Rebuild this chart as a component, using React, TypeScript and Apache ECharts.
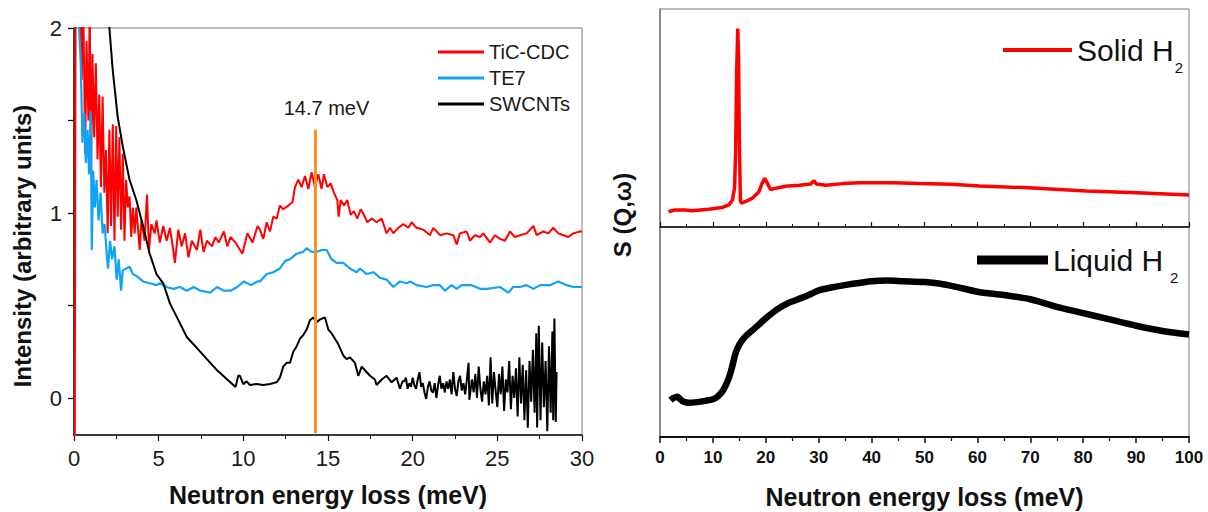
import React, { useEffect, useRef } from "react";
import * as echarts from "echarts";

const FONT = '"Liberation Sans", Arial, Helvetica, sans-serif';

// ---------- Left panel: INS spectra (x = meV, y = intensity) ----------
const ticCdc: number[][] = [
  [0.04, -0.5], [0.1, 2.5], [0.34, 2.3], [0.46, 1.72], [0.54, 2.2], [0.66, 1.32], [0.74, 1.93], [0.85, 1.5],
  [0.93, 2.1], [1.01, 1.21], [1.09, 1.86], [1.19, 1.41], [1.29, 1.81], [1.39, 1.29], [1.49, 1.64], [1.59, 1.14],
  [1.69, 1.63], [1.79, 1.11], [1.89, 1.34], [1.99, 0.89], [2.09, 1.45], [2.19, 0.93], [2.29, 1.48], [2.39, 0.85],
  [2.49, 1.47], [2.58, 0.98], [2.68, 1.41], [2.78, 0.91], [2.88, 1.32], [2.98, 0.85], [3.08, 1.18], [3.18, 1.03],
  [3.28, 1.09], [3.38, 0.87], [3.48, 1.03], [3.58, 0.89], [3.68, 1.03], [3.88, 0.8], [3.98, 0.96], [4.17, 0.85],
  [4.31, 1.1], [4.43, 0.8], [4.57, 0.94], [4.77, 0.89], [4.87, 0.96], [5.07, 0.84], [5.27, 0.93], [5.47, 0.85],
  [5.67, 0.92], [5.86, 0.8], [5.96, 0.73], [6.16, 0.91], [6.36, 0.82], [6.56, 0.89], [6.76, 0.76], [6.96, 0.85],
  [7.26, 0.8], [7.46, 0.91], [7.65, 0.79], [7.85, 0.85], [8.15, 0.82], [8.35, 0.87], [8.55, 0.84], [8.85, 0.9],
  [9.05, 0.82], [9.24, 0.87], [9.54, 0.84], [9.94, 0.78], [10.24, 0.89], [10.54, 0.84], [10.84, 0.93],
  [10.98, 0.91], [11.18, 0.86], [11.38, 0.95], [11.57, 0.9], [11.77, 0.98], [11.97, 0.97], [12.16, 1.04],
  [12.36, 1.02], [12.66, 1.04], [12.91, 1.06], [13.05, 1.14], [13.25, 1.18], [13.44, 1.14], [13.64, 1.2],
  [13.84, 1.13], [14.03, 1.22], [14.23, 1.14], [14.43, 1.21], [14.62, 1.13], [14.76, 1.21], [14.96, 1.14],
  [15.16, 1.16], [15.35, 1.11], [15.55, 1.07], [15.63, 0.98], [15.75, 1.07], [15.94, 1.04], [16.14, 1.07],
  [16.34, 0.99], [16.53, 1.01], [16.73, 0.97], [16.93, 1.02], [17.12, 0.99], [17.32, 0.95], [17.58, 0.97],
  [17.87, 0.95], [18.17, 0.97], [18.46, 0.89], [18.66, 0.92], [18.86, 0.89], [19.15, 0.92], [19.45, 0.94],
  [19.74, 0.92], [19.94, 0.95], [20.23, 0.92], [20.63, 0.91], [21.02, 0.88], [21.22, 0.92], [21.61, 0.88],
  [22.01, 0.89], [22.4, 0.88], [22.6, 0.83], [22.79, 0.89], [23.19, 0.9], [23.38, 0.85], [23.68, 0.88],
  [23.98, 0.87], [24.17, 0.89], [24.57, 0.84], [24.86, 0.88], [25.16, 0.86], [25.45, 0.85], [25.75, 0.9],
  [26.04, 0.87], [26.34, 0.88], [26.73, 0.89], [27.13, 0.93], [27.32, 0.88], [27.72, 0.9], [28.01, 0.89],
  [28.31, 0.92], [28.6, 0.89], [28.9, 0.88], [29.19, 0.87], [29.49, 0.89], [29.88, 0.9], [30, 0.9],
];

const te7: number[][] = [
  [0.2, 2.3], [0.3, 2.0], [0.4, 1.81], [0.5, 1.38], [0.6, 1.54], [0.7, 1.27], [0.8, 1.45], [0.89, 1.21],
  [0.99, 1.55], [1.05, 0.8], [1.13, 1.23], [1.23, 1.03], [1.33, 1.18], [1.45, 0.96], [1.57, 1.11], [1.69, 0.89],
  [1.81, 0.94], [1.93, 0.78], [2.01, 0.7], [2.13, 0.85], [2.25, 0.75], [2.39, 0.82], [2.52, 0.64], [2.64, 0.75],
  [2.78, 0.58], [2.88, 0.69], [3.08, 0.7], [3.28, 0.71], [3.48, 0.67], [3.68, 0.66], [4.08, 0.63], [4.47, 0.62],
  [4.87, 0.61], [5.07, 0.62], [5.47, 0.6], [5.86, 0.59], [6.26, 0.6], [6.66, 0.58], [7.06, 0.6], [7.46, 0.58],
  [8.05, 0.57], [8.45, 0.6], [8.85, 0.58], [9.24, 0.58], [9.64, 0.6], [10.04, 0.63], [10.44, 0.61], [10.84, 0.63],
  [10.98, 0.63], [11.38, 0.67], [11.77, 0.68], [12.16, 0.7], [12.46, 0.74], [12.75, 0.75], [13.15, 0.78],
  [13.54, 0.79], [13.74, 0.81], [14.03, 0.79], [14.33, 0.79], [14.62, 0.8], [14.92, 0.8], [15.21, 0.75],
  [15.51, 0.73], [15.9, 0.73], [16.3, 0.7], [16.69, 0.68], [16.89, 0.7], [17.28, 0.67], [17.68, 0.68],
  [18.07, 0.65], [18.46, 0.64], [18.86, 0.6], [19.25, 0.63], [19.65, 0.62], [19.84, 0.63], [20.23, 0.61],
  [20.83, 0.6], [21.22, 0.61], [21.61, 0.61], [21.91, 0.58], [22.3, 0.61], [22.6, 0.59], [22.89, 0.61],
  [23.48, 0.61], [23.98, 0.59], [24.37, 0.59], [25.16, 0.6], [25.65, 0.57], [25.94, 0.6], [26.34, 0.6],
  [26.73, 0.61], [27.13, 0.59], [27.52, 0.61], [28.11, 0.61], [28.6, 0.63], [29.1, 0.61], [29.49, 0.6],
  [29.88, 0.6], [30, 0.6],
];

const swcnt: number[][] = [
  [1.9, 2.3], [2.09, 2.0], [2.29, 1.77], [2.58, 1.52], [2.88, 1.36], [3.28, 1.18], [3.68, 1.07], [4.08, 0.93],
  [4.47, 0.78], [4.87, 0.67], [5.27, 0.62], [5.67, 0.51], [6.06, 0.44], [6.66, 0.33], [7.26, 0.27], [7.85, 0.21],
  [8.05, 0.19], [8.45, 0.15], [9.05, 0.1], [9.54, 0.06], [9.7, 0.12], [9.8, 0.12], [10.0, 0.075], [10.19, 0.09],
  [10.39, 0.07], [10.78, 0.076], [11.18, 0.07], [11.57, 0.076], [11.97, 0.085], [12.16, 0.11], [12.36, 0.17],
  [12.56, 0.19], [12.75, 0.19], [12.95, 0.25], [13.15, 0.28], [13.34, 0.32], [13.54, 0.34], [13.74, 0.37],
  [13.93, 0.42], [14.13, 0.435], [14.33, 0.41], [14.53, 0.425], [14.82, 0.435], [15.02, 0.37], [15.21, 0.35],
  [15.41, 0.32], [15.61, 0.29], [15.9, 0.23], [16.1, 0.21], [16.3, 0.22], [16.59, 0.19], [16.79, 0.12],
  [16.99, 0.17], [17.18, 0.15], [17.48, 0.12], [17.77, 0.1], [17.87, 0.07], [18.17, 0.1], [18.46, 0.12],
  [18.76, 0.085], [19.05, 0.11], [19.25, 0.05], [19.4, 0.09], [19.5, 0.09], [19.6, 0.11], [19.7, 0.05],
  [19.8, 0.08], [19.9, 0.06], [20.0, 0.11], [20.1, 0.07], [20.2, 0.05], [20.3, 0.1], [20.4, 0.14], [20.5, 0.06],
  [20.6, 0.08], [20.7, 0.03], [20.8, -0.005], [20.9, 0.06], [21.0, 0.09], [21.1, 0.04], [21.2, 0.03],
  [21.3, 0.08], [21.4, 0.0], [21.5, 0.07], [21.6, 0.12], [21.7, 0.05], [21.8, 0.08], [21.9, 0.03], [22.0, 0.09],
  [22.1, 0.05], [22.2, 0.1], [22.3, 0.02], [22.4, 0.14], [22.5, 0.05], [22.6, 0.01], [22.7, 0.09], [22.8, 0.12],
  [22.9, 0.04], [23.0, 0.08], [23.1, 0.02], [23.2, 0.1], [23.3, 0.19], [23.35, -0.01], [23.5, 0.1], [23.6, 0.03],
  [23.7, 0.13], [23.8, 0.0], [23.9, 0.17], [24.0, 0.05], [24.1, -0.02], [24.2, 0.09], [24.3, 0.02], [24.4, 0.12],
  [24.5, -0.04], [24.6, 0.22], [24.7, -0.03], [24.8, 0.14], [24.9, 0.04], [25.0, -0.05], [25.1, 0.13],
  [25.2, 0.02], [25.3, 0.17], [25.4, -0.07], [25.5, 0.1], [25.6, 0.03], [25.7, 0.2], [25.8, -0.06], [25.9, 0.12],
  [26.0, 0.0], [26.1, 0.16], [26.2, -0.1], [26.3, 0.22], [26.4, -0.03], [26.5, 0.18], [26.6, -0.12], [26.7, 0.15],
  [26.8, -0.16], [26.9, 0.2], [27.0, -0.02], [27.1, 0.26], [27.2, -0.08], [27.3, 0.35], [27.35, -0.16],
  [27.45, 0.39], [27.55, -0.12], [27.65, 0.3], [27.75, -0.05], [27.85, 0.2], [27.95, -0.18], [28.05, 0.28],
  [28.15, -0.08], [28.25, 0.36], [28.3, -0.12], [28.37, 0.43], [28.45, -0.13], [28.5, 0.14],
];

const markerX = 14.26;
const markerYRange = [-0.19, 1.45];
const markerLabel = "14.7 meV";

const leftXTicks = [0, 5, 10, 15, 20, 25, 30];
const leftYLabels = [0, 1, 2];
const leftYTicks = [0, 0.5, 1, 1.5, 2];

// ---------- Right panels: S(Q,w) of solid and liquid H2 ----------
const solidH2: number[][] = [
  [1.6, 7.0], [2.85, 7.8], [4.75, 7.8], [6.0, 7.5], [9.2, 8.1], [11.7, 8.9], [13.0, 10.1], [13.7, 12.4],
  [14.1, 18], [14.3, 35], [14.5, 72], [14.7, 91], [14.85, 78], [15.0, 40], [15.2, 12], [15.4, 10.9],
  [16.1, 11.6], [17.4, 13.1], [18.7, 16.2], [19.3, 20.0], [19.8, 22.3], [20.3, 20.0], [20.9, 17.2],
  [21.8, 17.7], [23.7, 18.7], [26.3, 19.2], [28.5, 19.7], [29.1, 21.2], [29.6, 19.7], [31.3, 19.2],
  [34.5, 19.9], [37.7, 20.3], [44.0, 20.3], [49.1, 19.9], [55.0, 19.6], [60.4, 18.8], [69.6, 18.0],
  [80.6, 16.5], [90.2, 15.7], [100, 14.7],
];

const liquidH2: number[][] = [
  [2.0, 17.5], [2.5, 18.5], [3.3, 19.2], [3.8, 18.0], [4.5, 16.8], [5.5, 16.3], [7, 16.6], [8.5, 17.2],
  [10, 18.0], [11, 19.5], [12, 22.5], [13, 28], [13.7, 34], [14.3, 40], [15, 44], [16, 47.5], [18, 52],
  [20, 56.5], [22, 60.5], [24, 63.5], [26, 65.5], [28, 67.5], [30, 69.8], [33, 71.5], [36, 72.8],
  [40, 74.2], [43, 74.5], [46, 74.2], [50, 73.8], [53, 73], [56, 71.5], [60, 69.2], [65, 67.6],
  [70, 65.6], [75, 62], [80, 59], [85, 56], [90, 53], [95, 50.5], [100, 48.8],
];

const xTitle = "Neutron energy loss (meV)";
const leftYTitle = "Intensity (arbitrary units)";
const rightYTitle = "S (Q,\u03c9)";

const RED = "#FF0000";
const BLUE = "#12A2F5";
const BLACK = "#000000";
const ORANGE = "#F7941D";
const FRAME = "#7a7a7a";

export default function App() {
  const ref = useRef<HTMLDivElement>(null);

  useEffect(() => {
    if (!ref.current) return;
    const chart = echarts.init(ref.current, null, { renderer: "svg" });

    const richFor = (gap: number) => ({
      m: { fontSize: 30, lineHeight: 50, color: "#111", fontFamily: FONT },
      s: { fontSize: 15, lineHeight: 15, verticalAlign: "bottom", color: "#111", fontFamily: FONT, padding: [0, 0, 0, gap] },
    });

    const option: any = {
      animation: false,
      backgroundColor: "#ffffff",
      textStyle: { fontFamily: FONT },
      grid: [
        { left: 74, top: 28, width: 508, height: 409, show: true, borderColor: FRAME, borderWidth: 1 },
        { left: 660, top: 9, width: 529, height: 218, show: true, borderColor: FRAME, borderWidth: 1 },
        { left: 660, top: 227, width: 529, height: 210, show: true, borderColor: FRAME, borderWidth: 1 },
      ],
      xAxis: [
        {
          type: "value", gridIndex: 0, min: leftXTicks[0], max: leftXTicks[leftXTicks.length - 1], interval: 5,
          axisLine: { show: true, onZero: false, lineStyle: { color: "#111", width: 1.5 } },
          axisTick: { show: true, length: 6, lineStyle: { color: "#111", width: 1.2 } },
          minorTick: { show: true, splitNumber: 2, length: 4, lineStyle: { color: "#111", width: 1 } },
          axisLabel: { fontSize: 22, color: "#1a1a1a", margin: 12, fontFamily: FONT },
          splitLine: { show: false },
          name: xTitle, nameLocation: "middle", nameGap: 47,
          nameTextStyle: { fontSize: 25, fontWeight: "bold", color: "#111", fontFamily: FONT },
        },
        {
          type: "value", gridIndex: 1, min: 0, max: 100, interval: 10,
          axisLine: { show: true, onZero: false, lineStyle: { color: "#111", width: 1.5 } },
          axisTick: { show: true, inside: true, length: 5, lineStyle: { color: "#111", width: 1.2 } },
          minorTick: { show: true, splitNumber: 2, length: 3, lineStyle: { color: "#111", width: 1 } },
          axisLabel: { show: false },
          splitLine: { show: false },
        },
        {
          type: "value", gridIndex: 2, min: 0, max: 100, interval: 10,
          axisLine: { show: true, onZero: false, lineStyle: { color: "#111", width: 1.8 } },
          axisTick: { show: true, length: 6, lineStyle: { color: "#111", width: 1.5 } },
          minorTick: { show: true, splitNumber: 2, length: 4, lineStyle: { color: "#111", width: 1.2 } },
          axisLabel: { fontSize: 17, fontWeight: "bold", color: "#111", margin: 12, fontFamily: FONT },
          splitLine: { show: false },
          name: xTitle, nameLocation: "middle", nameGap: 47,
          nameTextStyle: { fontSize: 25, fontWeight: "bold", color: "#111", fontFamily: FONT },
        },
      ],
      yAxis: [
        {
          type: "value", gridIndex: 0, min: -0.2, max: 2,
          axisLine: { show: true, onZero: false, lineStyle: { color: "#111", width: 1.5 } },
          axisTick: { show: true, length: 6, customValues: leftYTicks, lineStyle: { color: "#111", width: 1.3 } },
          axisLabel: { fontSize: 22, color: "#1a1a1a", margin: 12, customValues: leftYLabels, formatter: (v: number) => String(Math.round(v)), fontFamily: FONT },
          splitLine: { show: false },
        },
        {
          type: "value", gridIndex: 1, min: 0, max: 100,
          axisLine: { show: true, onZero: false, lineStyle: { color: FRAME, width: 1.5 } },
          axisTick: { show: false }, axisLabel: { show: false }, splitLine: { show: false },
        },
        {
          type: "value", gridIndex: 2, min: 0, max: 100,
          axisLine: { show: true, onZero: false, lineStyle: { color: FRAME, width: 1.5 } },
          axisTick: { show: false }, axisLabel: { show: false }, splitLine: { show: false },
        },
      ],
      legend: [
        {
          data: ["TiC-CDC", "TE7", "SWCNTs"], orient: "vertical", left: 433, top: 37,
          icon: "rect", itemWidth: 46, itemHeight: 3, itemGap: 6,
          textStyle: { fontSize: 20, color: "#1a1a1a", fontFamily: FONT },
        },
        {
          data: ["Solid H2"], left: 998, top: 30, icon: "rect", itemWidth: 69, itemHeight: 4,
          formatter: () => "{m|Solid H}{s|2}",
          textStyle: { rich: richFor(1) },
        },
        {
          data: ["Liquid H2"], left: 972, top: 240, icon: "rect", itemWidth: 71, itemHeight: 9,
          formatter: () => "{m|Liquid H}{s|2}",
          textStyle: { rich: richFor(7) },
        },
      ],
      series: [
        {
          name: "TiC-CDC", type: "line", xAxisIndex: 0, yAxisIndex: 0, data: ticCdc,
          symbol: "none", lineStyle: { color: RED, width: 2 }, itemStyle: { color: RED }, z: 2,
        },
        {
          name: "TE7", type: "line", xAxisIndex: 0, yAxisIndex: 0, data: te7,
          symbol: "none", lineStyle: { color: BLUE, width: 2.2 }, itemStyle: { color: BLUE }, z: 3,
        },
        {
          name: "SWCNTs", type: "line", xAxisIndex: 0, yAxisIndex: 0, data: swcnt,
          symbol: "none", lineStyle: { color: BLACK, width: 2 }, itemStyle: { color: BLACK }, z: 4,
        },
        {
          name: "marker", type: "line", xAxisIndex: 0, yAxisIndex: 0,
          data: [
            { value: [markerX, markerYRange[1]], label: { show: true, formatter: markerLabel, position: "top", distance: 12, offset: [11, 0], fontSize: 20, color: "#1a1a1a", fontFamily: FONT } },
            { value: [markerX, markerYRange[0]] },
          ],
          symbol: "circle", symbolSize: 0.1, showSymbol: true,
          lineStyle: { color: ORANGE, width: 3 }, itemStyle: { color: ORANGE }, z: 5,
        },
        {
          name: "Solid H2", type: "line", xAxisIndex: 1, yAxisIndex: 1, data: solidH2,
          symbol: "none", lineStyle: { color: RED, width: 3.5 }, itemStyle: { color: RED },
        },
        {
          name: "Liquid H2", type: "line", xAxisIndex: 2, yAxisIndex: 2, data: liquidH2,
          symbol: "none", smooth: 0.3, lineStyle: { color: BLACK, width: 6.5 }, itemStyle: { color: BLACK },
        },
      ],
      graphic: [
        {
          type: "text", x: 22, y: 246, rotation: Math.PI / 2,
          style: { text: leftYTitle, fontSize: 24, fontWeight: "bold", fontFamily: FONT, fill: "#111", align: "center", verticalAlign: "middle" },
        },
        {
          type: "text", x: 622, y: 215, rotation: Math.PI / 2,
          style: { text: rightYTitle, fontSize: 24, fontWeight: "bold", fontFamily: FONT, fill: "#111", align: "center", verticalAlign: "middle" },
        },
      ],
    };

    chart.setOption(option);
    return () => chart.dispose();
  }, []);

  return (
    <div
      ref={ref}
      style={{ position: "fixed", left: 0, top: 0, width: 1208, height: 512, background: "#fff" }}
    />
  );
}
